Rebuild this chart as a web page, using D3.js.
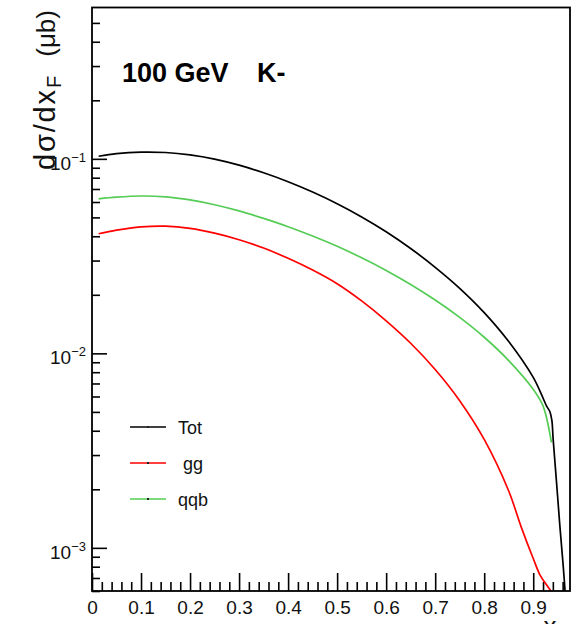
<!DOCTYPE html>
<html>
<head>
<meta charset="utf-8">
<script src="https://cdn.jsdelivr.net/npm/d3@7"></script>
<style>
  body { margin: 0; background: white; }
  svg { display: block; font-family: "Liberation Sans", Arial, Helvetica, sans-serif; }
</style>
</head>
<body>
<svg id="chart"></svg>
<script>
// values
const totX = [0.0135, 0.05, 0.1, 0.15, 0.2, 0.25, 0.3, 0.35, 0.4, 0.45, 0.5, 0.55, 0.6, 0.65, 0.7, 0.75, 0.8, 0.85, 0.9, 0.92, 0.927, 0.934, 0.938, 0.9406, 0.9476, 0.9544, 0.9611, 0.966]
const totY = [0.1031, 0.1063, 0.1083, 0.1078, 0.1048, 0.0997, 0.0928, 0.0848, 0.0763, 0.0675, 0.0588, 0.0503, 0.0422, 0.0346, 0.0277, 0.0216, 0.0162, 0.0115, 0.00752, 0.00589, 0.00537, 0.00501, 0.00452, 0.00363, 0.00216, 0.00129, 0.00081, 0.00055]

const ggX = [0.0135, 0.05, 0.1, 0.15, 0.2, 0.25, 0.3, 0.35, 0.4, 0.45, 0.5, 0.55, 0.6, 0.65, 0.7, 0.75, 0.8, 0.85, 0.875, 0.9, 0.914, 0.927, 0.94]
const ggY = [0.0412, 0.043, 0.0447, 0.0451, 0.0439, 0.0415, 0.0384, 0.0348, 0.0308, 0.0268, 0.0228, 0.0186, 0.0147, 0.01127, 0.00826, 0.00571, 0.00361, 0.00196, 0.00129, 0.000881, 0.000724, 0.000646, 0.000582]

const qqbX = [0.0135, 0.05, 0.1, 0.15, 0.2, 0.25, 0.3, 0.35, 0.4, 0.45, 0.5, 0.55, 0.6, 0.65, 0.7, 0.75, 0.8, 0.85, 0.9, 0.92, 0.937]
const qqbY = [0.0623, 0.0635, 0.0644, 0.0638, 0.0615, 0.0581, 0.054, 0.0494, 0.0448, 0.0401, 0.0355, 0.031, 0.0267, 0.0226, 0.0188, 0.0153, 0.0121, 0.00918, 0.00653, 0.00537, 0.00349]

const xMajor = [0, 0.1, 0.2, 0.3, 0.4, 0.5, 0.6, 0.7, 0.8, 0.9]
const xLabels = ["0", "0.1", "0.2", "0.3", "0.4", "0.5", "0.6", "0.7", "0.8", "0.9"]
const yMajor = [1e-3, 1e-2, 1e-1]
const yExps = ["-3", "-2", "-1"]
const legendNames = ["Tot", " gg", "qqb"]
const legendColors = ["#000000", "#ff0000", "#55cc55"]

let width = 581, height = 624
let svg = d3.select("#chart").attr("width", width).attr("height", height)
svg.append("rect").attr("width", width).attr("height", height).attr("fill", "white")

let x = d3.scaleLinear().domain([0, 0.975]).range([92, 570])
let y = d3.scaleLog().domain([6e-4, 0.6]).range([591, 7.5])

// minor ticks
let xMinor = d3.range(0, 0.975, 0.02).filter(v => Math.abs(v * 10 - Math.round(v * 10)) > 1e-6)
let yMinor = []
;[1e-4, 1e-3, 1e-2, 1e-1].forEach(d => {
  for (let k = 2; k <= 9; k++) {
    let v = d * k
    if (v > 6e-4 && v < 0.6) yMinor.push(v)
  }
})

let xMinorAxis = d3.axisBottom(x).tickValues(xMinor).tickSize(-9).tickSizeOuter(0).tickFormat("")
let xAxis = d3.axisBottom(x).tickValues(xMajor).tickSize(-18).tickSizeOuter(0).tickPadding(10)
  .tickFormat((d, i) => xLabels[i])
let gxm = svg.append("g").attr("transform", "translate(0,591)").call(xMinorAxis)
let gx = svg.append("g").attr("transform", "translate(0,591)").call(xAxis)
gx.selectAll("text").attr("font-size", 19).attr("fill", "#111").style("font-family", "inherit")

let yMinorAxis = d3.axisLeft(y).tickValues(yMinor).tickSize(-8).tickSizeOuter(0).tickFormat(() => "")
let yAxis = d3.axisLeft(y).tickValues(yMajor).tickSize(-15).tickSizeOuter(0).tickPadding(6).tickFormat(() => "")
let gym = svg.append("g").attr("transform", "translate(92,0)").call(yMinorAxis)
let gy = svg.append("g").attr("transform", "translate(92,0)").call(yAxis)
gy.selectAll(".tick text").each(function (d, i) {
  let t = d3.select(this).attr("dy", "0.55em").attr("font-size", 19).attr("fill", "#111").style("font-family", "inherit")
  t.append("tspan").text("10")
  t.append("tspan").attr("font-size", 13).attr("dy", -8).text(yExps[i].replace("-", "\u2212"))
})

;[gx, gxm, gy, gym].forEach(g => {
  g.select(".domain").remove()
  g.selectAll("line").attr("stroke", "#000").attr("stroke-width", 1.6)
})

// curves
svg.append("clipPath").attr("id", "frameClip")
  .append("rect").attr("x", 92).attr("y", 7.5).attr("width", 478).attr("height", 583.5)

let line = d3.line().x(d => x(d[0])).y(d => y(d[1])).curve(d3.curveCatmullRom.alpha(0.5))
let seriesList = [
  { xs: totX, ys: totY, color: legendColors[0] },
  { xs: ggX, ys: ggY, color: legendColors[1] },
  { xs: qqbX, ys: qqbY, color: legendColors[2] }
]
let curveG = svg.append("g").attr("clip-path", "url(#frameClip)")
seriesList.slice().reverse().forEach(s => {
  curveG.append("path")
    .datum(s.xs.map((v, i) => [v, s.ys[i]]))
    .attr("d", line)
    .attr("fill", "none")
    .attr("stroke", s.color)
    .attr("stroke-width", 1.7)
})

// frame
svg.append("rect").attr("x", 92).attr("y", 7.5).attr("width", 478).attr("height", 583.5)
  .attr("fill", "none").attr("stroke", "#000").attr("stroke-width", 1.8)

// legend
let legendY = [427, 463, 499]
legendNames.forEach((name, i) => {
  svg.append("line").attr("x1", 130).attr("x2", 166).attr("y1", legendY[i]).attr("y2", legendY[i])
    .attr("stroke", legendColors[i]).attr("stroke-width", 1.7)
  svg.append("rect").attr("x", 147).attr("y", legendY[i] - 1).attr("width", 2).attr("height", 2).attr("fill", "#222")
  svg.append("text").attr("x", 178).attr("y", legendY[i] + 7).attr("font-size", 18)
    .style("white-space", "pre").attr("fill", "#111").text(name)
})

// label
svg.append("text").attr("x", 122).attr("y", 82).attr("font-size", 27).attr("font-weight", "bold").text("100 GeV")
svg.append("text").attr("x", 257).attr("y", 82).attr("font-size", 27).attr("font-weight", "bold").text("K-")

// y title, pieces placed along the rotated axis
let ytG = svg.append("g").attr("transform", "translate(55,0) rotate(-90)").attr("fill", "#111")
ytG.append("text").attr("x", -170).attr("y", 0).attr("font-size", 29)
  .attr("textLength", 80).attr("lengthAdjust", "spacing").text("d\u03c3/dx")
ytG.append("text").attr("x", -88).attr("y", 6).attr("font-size", 20).text("F")
ytG.append("text").attr("x", -10).attr("y", 0).attr("font-size", 26).attr("text-anchor", "end").text("(\u03bcb)")

// x title, mostly below the window
let xt = svg.append("text").attr("x", 568).attr("y", 635).attr("text-anchor", "end").attr("font-size", 26).attr("fill", "#111")
xt.append("tspan").text("x")
xt.append("tspan").attr("font-size", 19).attr("dy", 6).text("F")
</script>
</body>
</html>
